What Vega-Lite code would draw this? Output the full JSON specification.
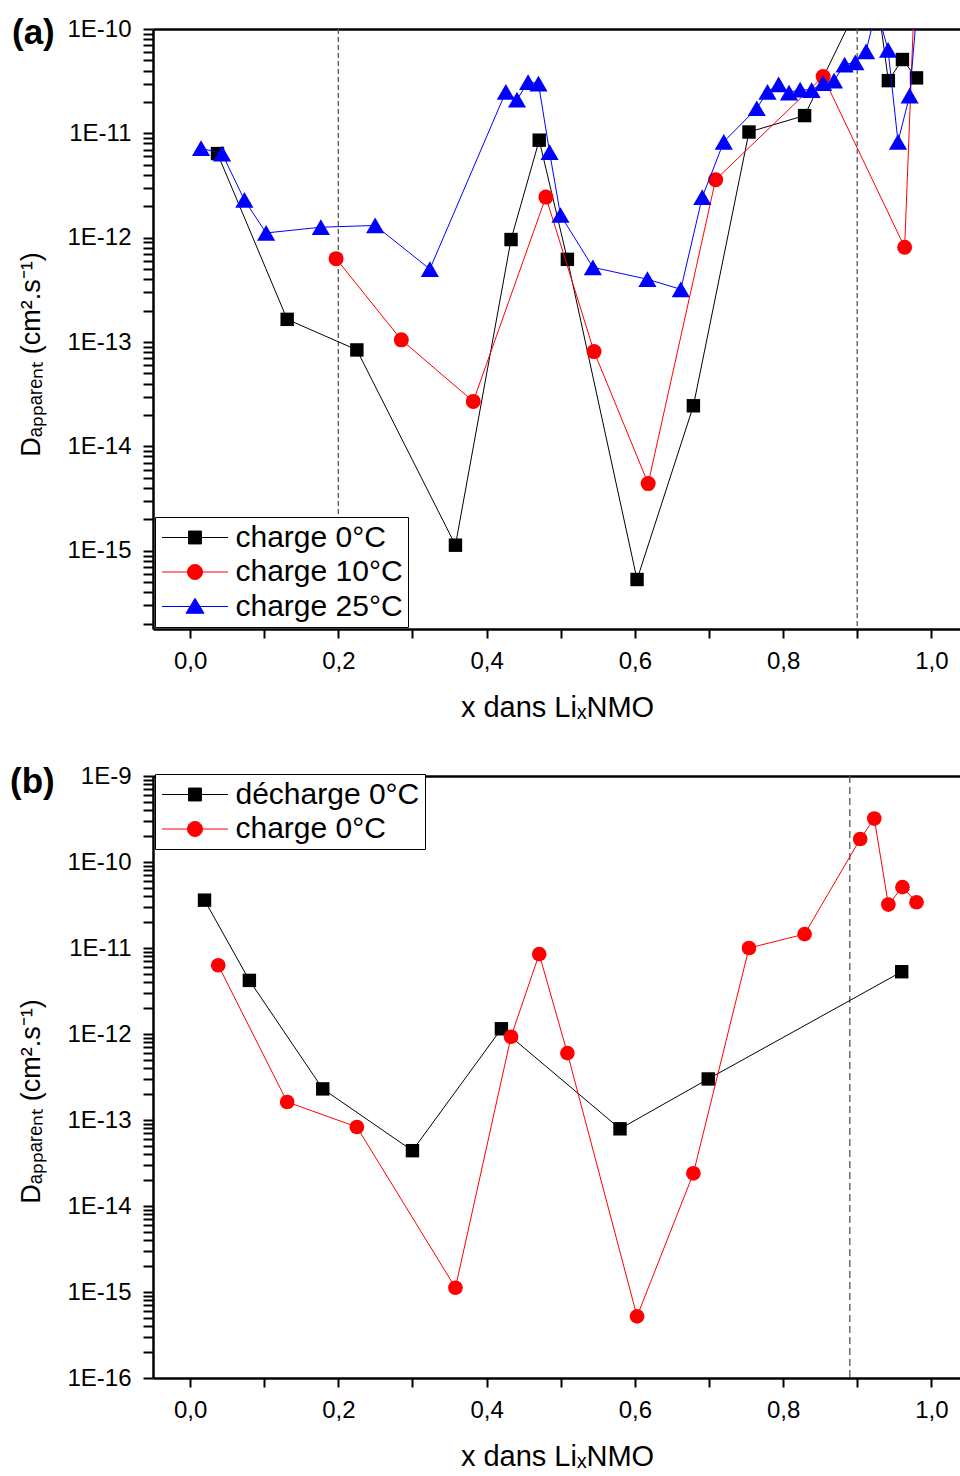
{
  "$schema": "https://vega.github.io/schema/vega-lite/v6.json",
  "background": "white",
  "padding": {"left": 10, "top": 16, "right": 0, "bottom": 0},
  "config": {
    "view": {"stroke": null},
    "font": "Liberation Sans",
    "axis": {"grid": false, "domainColor": "black", "domainWidth": 2.5, "tickColor": "black", "tickWidth": 2, "labelColor": "black", "labelFont": "Liberation Sans", "labelFontSize": 24, "titleFont": "Liberation Sans", "titleFontWeight": "normal", "titleColor": "black", "labelFlush": false, "labelOverlap": false},
    "title": {"font": "Liberation Sans", "fontSize": 35, "fontWeight": "bold", "color": "black", "anchor": "start", "frame": "group", "offset": 0}
  },
  "datasets": {
    "pts": [
      {"p":"a","s":"charge 0°C","x":0.037,"D":6.4e-12},
      {"p":"a","s":"charge 0°C","x":0.131,"D":1.65e-13},
      {"p":"a","s":"charge 0°C","x":0.225,"D":8.4e-14},
      {"p":"a","s":"charge 0°C","x":0.358,"D":1.13e-15},
      {"p":"a","s":"charge 0°C","x":0.433,"D":9.6e-13},
      {"p":"a","s":"charge 0°C","x":0.471,"D":8.6e-12},
      {"p":"a","s":"charge 0°C","x":0.509,"D":6.2e-13},
      {"p":"a","s":"charge 0°C","x":0.603,"D":5.3e-16},
      {"p":"a","s":"charge 0°C","x":0.679,"D":2.45e-14},
      {"p":"a","s":"charge 0°C","x":0.754,"D":1.03e-11},
      {"p":"a","s":"charge 0°C","x":0.829,"D":1.48e-11},
      {"p":"a","s":"charge 0°C","x":0.904,"D":1.85e-10},
      {"p":"a","s":"charge 0°C","x":0.923,"D":3.2e-10},
      {"p":"a","s":"charge 0°C","x":0.942,"D":3.2e-11},
      {"p":"a","s":"charge 0°C","x":0.961,"D":5.1e-11},
      {"p":"a","s":"charge 0°C","x":0.980,"D":3.4e-11},
      {"p":"a","s":"charge 10°C","x":0.197,"D":6.3e-13},
      {"p":"a","s":"charge 10°C","x":0.285,"D":1.05e-13},
      {"p":"a","s":"charge 10°C","x":0.382,"D":2.7e-14},
      {"p":"a","s":"charge 10°C","x":0.480,"D":2.45e-12},
      {"p":"a","s":"charge 10°C","x":0.545,"D":8.1e-14},
      {"p":"a","s":"charge 10°C","x":0.618,"D":4.4e-15},
      {"p":"a","s":"charge 10°C","x":0.709,"D":3.6e-12},
      {"p":"a","s":"charge 10°C","x":0.854,"D":3.5e-11},
      {"p":"a","s":"charge 10°C","x":0.964,"D":8.1e-13},
      {"p":"a","s":"charge 10°C","x":0.980,"D":7e-10},
      {"p":"a","s":"charge 25°C","x":0.0148,"D":7.2e-12},
      {"p":"a","s":"charge 25°C","x":0.0432,"D":6.4e-12},
      {"p":"a","s":"charge 25°C","x":0.0733,"D":2.3e-12},
      {"p":"a","s":"charge 25°C","x":0.1026,"D":1.11e-12},
      {"p":"a","s":"charge 25°C","x":0.1764,"D":1.26e-12},
      {"p":"a","s":"charge 25°C","x":0.2497,"D":1.31e-12},
      {"p":"a","s":"charge 25°C","x":0.3235,"D":5.0e-13},
      {"p":"a","s":"charge 25°C","x":0.426,"D":2.5e-11},
      {"p":"a","s":"charge 25°C","x":0.441,"D":2.1e-11},
      {"p":"a","s":"charge 25°C","x":0.456,"D":3.1e-11},
      {"p":"a","s":"charge 25°C","x":0.470,"D":3.0e-11},
      {"p":"a","s":"charge 25°C","x":0.485,"D":6.6e-12},
      {"p":"a","s":"charge 25°C","x":0.4997,"D":1.65e-12},
      {"p":"a","s":"charge 25°C","x":0.5434,"D":5.2e-13},
      {"p":"a","s":"charge 25°C","x":0.617,"D":4.0e-13},
      {"p":"a","s":"charge 25°C","x":0.662,"D":3.2e-13},
      {"p":"a","s":"charge 25°C","x":0.691,"D":2.45e-12},
      {"p":"a","s":"charge 25°C","x":0.720,"D":8.3e-12},
      {"p":"a","s":"charge 25°C","x":0.7645,"D":1.74e-11},
      {"p":"a","s":"charge 25°C","x":0.779,"D":2.5e-11},
      {"p":"a","s":"charge 25°C","x":0.794,"D":2.95e-11},
      {"p":"a","s":"charge 25°C","x":0.808,"D":2.46e-11},
      {"p":"a","s":"charge 25°C","x":0.823,"D":2.63e-11},
      {"p":"a","s":"charge 25°C","x":0.8385,"D":2.6e-11},
      {"p":"a","s":"charge 25°C","x":0.854,"D":3.03e-11},
      {"p":"a","s":"charge 25°C","x":0.8687,"D":3.2e-11},
      {"p":"a","s":"charge 25°C","x":0.883,"D":4.55e-11},
      {"p":"a","s":"charge 25°C","x":0.8975,"D":4.8e-11},
      {"p":"a","s":"charge 25°C","x":0.912,"D":6.1e-11},
      {"p":"a","s":"charge 25°C","x":0.926,"D":1.6e-10},
      {"p":"a","s":"charge 25°C","x":0.9416,"D":6.3e-11},
      {"p":"a","s":"charge 25°C","x":0.955,"D":8.3e-12},
      {"p":"a","s":"charge 25°C","x":0.9707,"D":2.3e-11},
      {"p":"a","s":"charge 25°C","x":0.984,"D":3e-10},
      {"p":"b","s":"décharge 0°C","x":0.0195,"D":3.6e-11},
      {"p":"b","s":"décharge 0°C","x":0.080,"D":4.2e-12},
      {"p":"b","s":"décharge 0°C","x":0.179,"D":2.3e-13},
      {"p":"b","s":"décharge 0°C","x":0.300,"D":4.4e-14},
      {"p":"b","s":"décharge 0°C","x":0.420,"D":1.15e-12},
      {"p":"b","s":"décharge 0°C","x":0.580,"D":7.9e-14},
      {"p":"b","s":"décharge 0°C","x":0.699,"D":3.0e-13},
      {"p":"b","s":"décharge 0°C","x":0.960,"D":5.3e-12},
      {"p":"b","s":"charge 0°C","x":0.038,"D":6.3e-12},
      {"p":"b","s":"charge 0°C","x":0.131,"D":1.62e-13},
      {"p":"b","s":"charge 0°C","x":0.225,"D":8.3e-14},
      {"p":"b","s":"charge 0°C","x":0.358,"D":1.12e-15},
      {"p":"b","s":"charge 0°C","x":0.433,"D":9.3e-13},
      {"p":"b","s":"charge 0°C","x":0.471,"D":8.5e-12},
      {"p":"b","s":"charge 0°C","x":0.509,"D":6.0e-13},
      {"p":"b","s":"charge 0°C","x":0.603,"D":5.2e-16},
      {"p":"b","s":"charge 0°C","x":0.679,"D":2.4e-14},
      {"p":"b","s":"charge 0°C","x":0.754,"D":1.0e-11},
      {"p":"b","s":"charge 0°C","x":0.829,"D":1.45e-11},
      {"p":"b","s":"charge 0°C","x":0.904,"D":1.85e-10},
      {"p":"b","s":"charge 0°C","x":0.923,"D":3.2e-10},
      {"p":"b","s":"charge 0°C","x":0.942,"D":3.2e-11},
      {"p":"b","s":"charge 0°C","x":0.961,"D":5.1e-11},
      {"p":"b","s":"charge 0°C","x":0.980,"D":3.4e-11}
    ],
    "vlines": [
      {"p":"a","x":0.2},
      {"p":"a","x":0.9},
      {"p":"b","x":0.89}
    ]
  },
  "spacing": 42,
  "resolve": {"scale": {"x": "independent", "y": "independent", "fill": "independent", "stroke": "independent", "shape": "independent"}, "legend": {"fill": "independent", "stroke": "independent", "shape": "independent"}},
  "vconcat": [
    {
      "width": 808,
      "height": 600,
      "title": {"text": "(a)", "dx": -141, "dy": 38},
      "resolve": {"axis": {"x": "independent"}},
      "layer": [
        {
          "data": {"name": "vlines"},
          "transform": [{"filter": "datum.p == 'a'"}],
          "mark": {"type": "rule", "color": "#555555", "strokeWidth": 1.3, "strokeDash": [5, 3]},
          "encoding": {
            "x": {"field": "x", "type": "quantitative", "scale": {"domain": [-0.05, 1.04], "nice": false, "zero": false},
                  "axis": {"orient": "top", "ticks": false, "labels": false, "title": null, "values": []}}
          }
        },
        {
          "data": {"name": "pts"},
          "transform": [{"filter": "datum.p == 'a' && datum.s == 'charge 0°C'"}],
          "mark": {"type": "line", "strokeWidth": 1, "clip": true, "color": "#000000"},
          "encoding": {
            "x": {"field": "x", "type": "quantitative", "scale": {"domain": [-0.05, 1.04], "nice": false, "zero": false},
                  "axis": {"orient": "bottom", "values": [0,0.1,0.2,0.3,0.4,0.5,0.6,0.7,0.8,0.9,1.0], "labelExpr": "round(datum.value*10) % 2 == 0 ? replace(format(datum.value, '.1f'), '.', ',') : ''", "tickSize": 9, "labelPadding": 11, "title": "x dans LiₓNMO", "titleFontSize": 29, "titlePadding": 20}},
            "y": {"field": "D", "type": "quantitative", "scale": {"type": "log", "domain": [1.778e-16, 1e-10], "nice": false},
                  "axis": {"orient": "left",
                           "values": [2e-16,3e-16,4e-16,5e-16,6e-16,7e-16,8e-16,9e-16,1e-15,2e-15,3e-15,4e-15,5e-15,6e-15,7e-15,8e-15,9e-15,1e-14,2e-14,3e-14,4e-14,5e-14,6e-14,7e-14,8e-14,9e-14,1e-13,2e-13,3e-13,4e-13,5e-13,6e-13,7e-13,8e-13,9e-13,1e-12,2e-12,3e-12,4e-12,5e-12,6e-12,7e-12,8e-12,9e-12,1e-11,2e-11,3e-11,4e-11,5e-11,6e-11,7e-11,8e-11,9e-11,1e-10],
                           "labelExpr": "abs(log(datum.value)/LN10 - round(log(datum.value)/LN10)) < 0.001 ? '1E' + round(log(datum.value)/LN10) : ''",
                           "tickSize": 10, "labelPadding": 12,
                           "encode": {"ticks": {"update": {"x2": {"signal": "abs(log(datum.value)/LN10 - round(log(datum.value)/LN10)) < 0.001 ? -10 : -5"}}}},
                           "title": "Dₐₚₚₐᵣₑₙₜ (cm².s⁻¹)", "titleFontSize": 27, "titlePadding": 21, "titleY": 325}}
          }
        },
        {
          "data": {"name": "pts"},
          "transform": [{"filter": "datum.p == 'a' && datum.s == 'charge 0°C'"}],
          "mark": {"type": "point", "shape": "square", "filled": true, "opacity": 1, "size": 180, "color": "#000000", "clip": true},
          "encoding": {
            "x": {"field": "x", "type": "quantitative", "scale": {"domain": [-0.05, 1.04], "nice": false, "zero": false}, "axis": null},
            "y": {"field": "D", "type": "quantitative", "scale": {"type": "log", "domain": [1.778e-16, 1e-10], "nice": false}}
          }
        },
        {
          "data": {"name": "pts"},
          "transform": [{"filter": "datum.p == 'a' && datum.s == 'charge 10°C'"}],
          "mark": {"type": "line", "strokeWidth": 1, "clip": true, "color": "#ff0000"},
          "encoding": {
            "x": {"field": "x", "type": "quantitative", "scale": {"domain": [-0.05, 1.04], "nice": false, "zero": false}, "axis": null},
            "y": {"field": "D", "type": "quantitative", "scale": {"type": "log", "domain": [1.778e-16, 1e-10], "nice": false}}
          }
        },
        {
          "data": {"name": "pts"},
          "transform": [{"filter": "datum.p == 'a' && datum.s == 'charge 10°C'"}],
          "mark": {"type": "point", "shape": "circle", "filled": true, "opacity": 1, "size": 225, "color": "#ff0000", "clip": true},
          "encoding": {
            "x": {"field": "x", "type": "quantitative", "scale": {"domain": [-0.05, 1.04], "nice": false, "zero": false}, "axis": null},
            "y": {"field": "D", "type": "quantitative", "scale": {"type": "log", "domain": [1.778e-16, 1e-10], "nice": false}}
          }
        },
        {
          "data": {"name": "pts"},
          "transform": [{"filter": "datum.p == 'a' && datum.s == 'charge 25°C'"}],
          "mark": {"type": "line", "strokeWidth": 1, "clip": true, "color": "#0000ff"},
          "encoding": {
            "x": {"field": "x", "type": "quantitative", "scale": {"domain": [-0.05, 1.04], "nice": false, "zero": false}, "axis": null},
            "y": {"field": "D", "type": "quantitative", "scale": {"type": "log", "domain": [1.778e-16, 1e-10], "nice": false}}
          }
        },
        {
          "data": {"name": "pts"},
          "transform": [{"filter": "datum.p == 'a' && datum.s == 'charge 25°C'"}],
          "mark": {"type": "point", "shape": "triangle-up", "filled": true, "opacity": 1, "size": 330, "color": "#0000ff", "clip": true},
          "encoding": {
            "x": {"field": "x", "type": "quantitative", "scale": {"domain": [-0.05, 1.04], "nice": false, "zero": false}, "axis": null},
            "y": {"field": "D", "type": "quantitative", "scale": {"type": "log", "domain": [1.778e-16, 1e-10], "nice": false}}
          }
        },
        {
          "data": {"name": "pts"},
          "transform": [{"filter": "false"}],
          "mark": {"type": "point", "filled": true, "opacity": 1, "strokeWidth": 1},
          "encoding": {
            "fill": {"field": "s", "type": "nominal", "scale": {"domain": ["charge 0°C","charge 10°C","charge 25°C"], "range": ["#000000","#ff0000","#0000ff"]},
                     "legend": {"title": null, "orient": "bottom-left", "direction": "vertical", "offset": 2, "padding": 5, "strokeColor": "black", "fillColor": "white", "labelFont": "Liberation Sans", "labelFontSize": 30, "labelColor": "black", "labelLimit": 400, "labelOffset": 25, "rowPadding": 3.5, "symbolOffset": 19.5, "symbolSize": 900, "symbolStrokeWidth": 1, "symbolOpacity": 1}},
            "stroke": {"field": "s", "type": "nominal", "scale": {"domain": ["charge 0°C","charge 10°C","charge 25°C"], "range": ["#000000","#ff0000","#0000ff"]}},
            "shape": {"field": "s", "type": "nominal", "scale": {"domain": ["charge 0°C","charge 10°C","charge 25°C"], "range": ["M-2.2,0H2.2M-0.43,-0.43H0.43V0.43H-0.43Z", "M-2.2,0H2.2M-0.5,0A0.5,0.5,0,1,1,0.5,0A0.5,0.5,0,1,1,-0.5,0Z", "M-2.2,0H2.2M0,-0.55L0.6,0.45L-0.6,0.45Z"]}}
          }
        }
      ]
    },
    {
      "width": 808,
      "height": 602,
      "title": {"text": "(b)", "dx": -143, "dy": 40},
      "resolve": {"axis": {"x": "independent"}},
      "layer": [
        {
          "data": {"name": "vlines"},
          "transform": [{"filter": "datum.p == 'b'"}],
          "mark": {"type": "rule", "color": "#555555", "strokeWidth": 1.3, "strokeDash": [7, 4]},
          "encoding": {
            "x": {"field": "x", "type": "quantitative", "scale": {"domain": [-0.05, 1.04], "nice": false, "zero": false},
                  "axis": {"orient": "top", "ticks": false, "labels": false, "title": null, "values": []}}
          }
        },
        {
          "data": {"name": "pts"},
          "transform": [{"filter": "datum.p == 'b' && datum.s == 'décharge 0°C'"}],
          "mark": {"type": "line", "strokeWidth": 1, "clip": true, "color": "#000000"},
          "encoding": {
            "x": {"field": "x", "type": "quantitative", "scale": {"domain": [-0.05, 1.04], "nice": false, "zero": false},
                  "axis": {"orient": "bottom", "values": [0,0.1,0.2,0.3,0.4,0.5,0.6,0.7,0.8,0.9,1.0], "labelExpr": "round(datum.value*10) % 2 == 0 ? replace(format(datum.value, '.1f'), '.', ',') : ''", "tickSize": 9, "labelPadding": 11, "title": "x dans LiₓNMO", "titleFontSize": 29, "titlePadding": 20}},
            "y": {"field": "D", "type": "quantitative", "scale": {"type": "log", "domain": [1e-16, 1e-9], "nice": false},
                  "axis": {"orient": "left",
                           "values": [1e-16,2e-16,3e-16,4e-16,5e-16,6e-16,7e-16,8e-16,9e-16,1e-15,2e-15,3e-15,4e-15,5e-15,6e-15,7e-15,8e-15,9e-15,1e-14,2e-14,3e-14,4e-14,5e-14,6e-14,7e-14,8e-14,9e-14,1e-13,2e-13,3e-13,4e-13,5e-13,6e-13,7e-13,8e-13,9e-13,1e-12,2e-12,3e-12,4e-12,5e-12,6e-12,7e-12,8e-12,9e-12,1e-11,2e-11,3e-11,4e-11,5e-11,6e-11,7e-11,8e-11,9e-11,1e-10,2e-10,3e-10,4e-10,5e-10,6e-10,7e-10,8e-10,9e-10,1e-9],
                           "labelExpr": "abs(log(datum.value)/LN10 - round(log(datum.value)/LN10)) < 0.001 ? '1E' + round(log(datum.value)/LN10) : ''",
                           "tickSize": 10, "labelPadding": 12,
                           "encode": {"ticks": {"update": {"x2": {"signal": "abs(log(datum.value)/LN10 - round(log(datum.value)/LN10)) < 0.001 ? -10 : -5"}}}},
                           "title": "Dₐₚₚₐᵣₑₙₜ (cm².s⁻¹)", "titleFontSize": 27, "titlePadding": 21, "titleY": 325}}
          }
        },
        {
          "data": {"name": "pts"},
          "transform": [{"filter": "datum.p == 'b' && datum.s == 'décharge 0°C'"}],
          "mark": {"type": "point", "shape": "square", "filled": true, "opacity": 1, "size": 180, "color": "#000000", "clip": true},
          "encoding": {
            "x": {"field": "x", "type": "quantitative", "scale": {"domain": [-0.05, 1.04], "nice": false, "zero": false}, "axis": null},
            "y": {"field": "D", "type": "quantitative", "scale": {"type": "log", "domain": [1e-16, 1e-9], "nice": false}}
          }
        },
        {
          "data": {"name": "pts"},
          "transform": [{"filter": "datum.p == 'b' && datum.s == 'charge 0°C'"}],
          "mark": {"type": "line", "strokeWidth": 1, "clip": true, "color": "#ff0000"},
          "encoding": {
            "x": {"field": "x", "type": "quantitative", "scale": {"domain": [-0.05, 1.04], "nice": false, "zero": false}, "axis": null},
            "y": {"field": "D", "type": "quantitative", "scale": {"type": "log", "domain": [1e-16, 1e-9], "nice": false}}
          }
        },
        {
          "data": {"name": "pts"},
          "transform": [{"filter": "datum.p == 'b' && datum.s == 'charge 0°C'"}],
          "mark": {"type": "point", "shape": "circle", "filled": true, "opacity": 1, "size": 215, "color": "#ff0000", "clip": true},
          "encoding": {
            "x": {"field": "x", "type": "quantitative", "scale": {"domain": [-0.05, 1.04], "nice": false, "zero": false}, "axis": null},
            "y": {"field": "D", "type": "quantitative", "scale": {"type": "log", "domain": [1e-16, 1e-9], "nice": false}}
          }
        },
        {
          "data": {"name": "pts"},
          "transform": [{"filter": "false"}],
          "mark": {"type": "point", "filled": true, "opacity": 1, "strokeWidth": 1},
          "encoding": {
            "fill": {"field": "s", "type": "nominal", "scale": {"domain": ["décharge 0°C","charge 0°C"], "range": ["#000000","#ff0000"]},
                     "legend": {"title": null, "orient": "none", "legendX": 2, "legendY": -2, "direction": "vertical", "padding": 5, "strokeColor": "black", "fillColor": "white", "labelFont": "Liberation Sans", "labelFontSize": 30, "labelColor": "black", "labelLimit": 400, "labelOffset": 25, "rowPadding": 3.5, "symbolOffset": 19.5, "symbolSize": 900, "symbolStrokeWidth": 1, "symbolOpacity": 1}},
            "stroke": {"field": "s", "type": "nominal", "scale": {"domain": ["décharge 0°C","charge 0°C"], "range": ["#000000","#ff0000"]}},
            "shape": {"field": "s", "type": "nominal", "scale": {"domain": ["décharge 0°C","charge 0°C"], "range": ["M-2.2,0H2.2M-0.43,-0.43H0.43V0.43H-0.43Z", "M-2.2,0H2.2M-0.5,0A0.5,0.5,0,1,1,0.5,0A0.5,0.5,0,1,1,-0.5,0Z"]}}
          }
        }
      ]
    }
  ]
}
